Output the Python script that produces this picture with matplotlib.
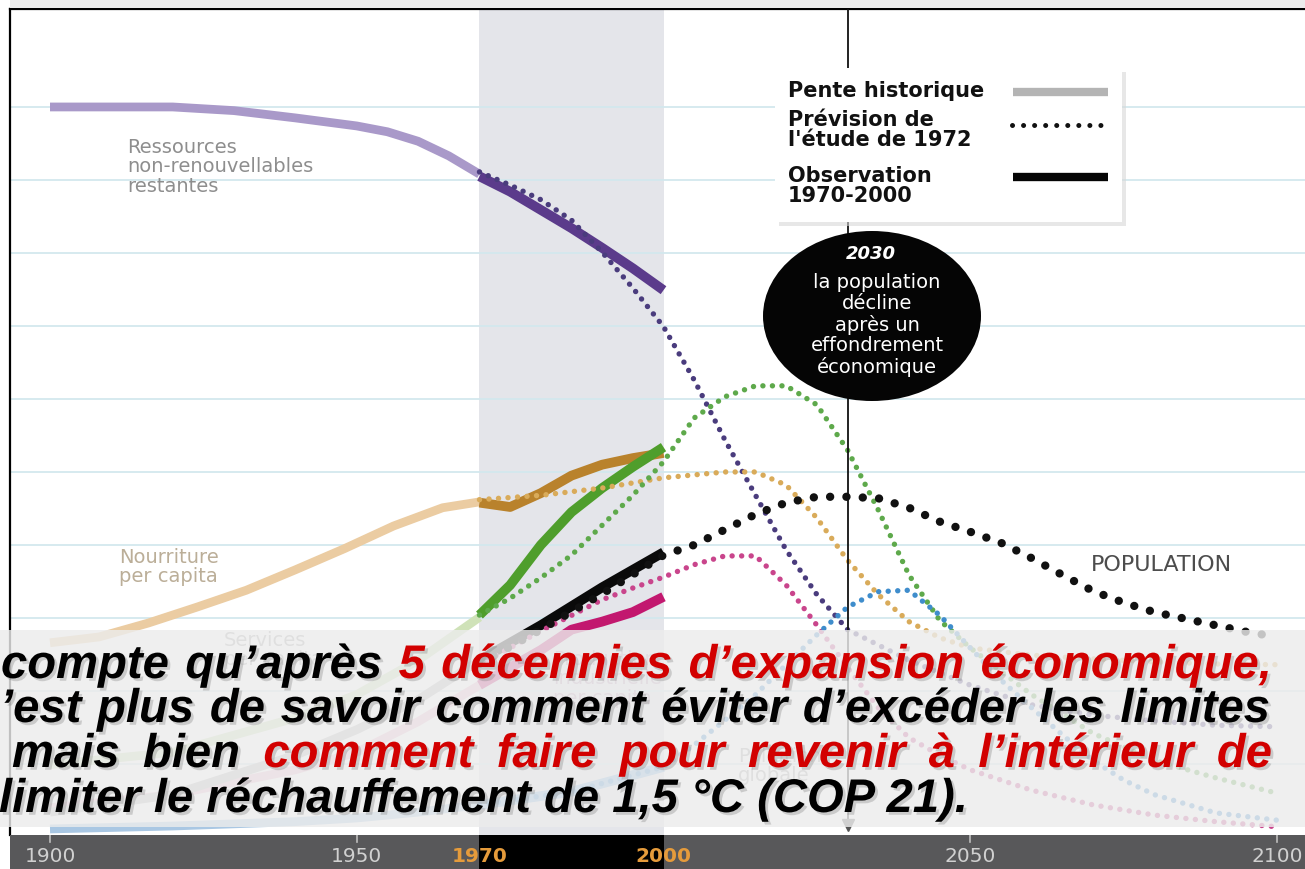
import matplotlib
matplotlib.use('Agg')
import matplotlib.pyplot as plt
from matplotlib.patches import Rectangle, Ellipse
from matplotlib.lines import Line2D
import matplotlib.patheffects as pe

# ---------------- DATA (values in grid units, years on x) ----------------
# Ressources non-renouvellables restantes
res_hist_years = [1900, 1910, 1920, 1930, 1940, 1950, 1955, 1960, 1965, 1970]
res_hist_vals = [10.00, 10.00, 10.00, 9.95, 9.85, 9.74, 9.66, 9.53, 9.33, 9.08]
res_obs_years = [1970, 1975, 1980, 1985, 1990, 1995, 2000]
res_obs_vals = [9.05, 8.84, 8.59, 8.34, 8.07, 7.79, 7.49]
res_fc_years = [1970, 1975, 1980, 1985, 1990, 1995, 2000, 2005, 2010, 2015, 2020,
                2025, 2030, 2035, 2040, 2050, 2060, 2070, 2080, 2090, 2100]
res_fc_vals = [9.11, 8.93, 8.73, 8.45, 8.01, 7.52, 6.99, 6.26, 5.44, 4.68, 3.93,
               3.32, 2.84, 2.63, 2.42, 2.08, 1.81, 1.67, 1.59, 1.53, 1.51]

# Nourriture per capita
food_hist_years = [1900, 1908, 1916, 1924, 1932, 1940, 1948, 1956, 1964, 1970]
food_hist_vals = [2.66, 2.74, 2.93, 3.15, 3.38, 3.66, 3.95, 4.26, 4.51, 4.59]
food_obs_years = [1970, 1975, 1980, 1985, 1990, 1995, 2000]
food_obs_vals = [4.58, 4.52, 4.71, 4.95, 5.10, 5.19, 5.26]
food_fc_years = [1970, 1980, 1990, 2000, 2010, 2015, 2020, 2025, 2030, 2035, 2040,
                 2045, 2050, 2060, 2070, 2080, 2090, 2100]
food_fc_vals = [4.62, 4.68, 4.78, 4.92, 5.00, 5.00, 4.82, 4.37, 3.79, 3.32, 2.95,
                2.73, 2.59, 2.49, 2.44, 2.40, 2.37, 2.36]

# Services per capita
serv_hist_years = [1900, 1920, 1940, 1950, 1960, 1970]
serv_hist_vals = [0.99, 1.16, 1.63, 1.95, 2.42, 3.01]
serv_obs_years = [1970, 1975, 1980, 1985, 1990, 1995, 2000]
serv_obs_vals = [3.04, 3.45, 4.00, 4.45, 4.78, 5.07, 5.34]
serv_fc_years = [1970, 1975, 1980, 1985, 1990, 1995, 2000, 2005, 2010, 2015, 2020,
                 2025, 2030, 2035, 2040, 2045, 2050, 2060, 2070, 2080, 2090, 2100]
serv_fc_vals = [3.04, 3.27, 3.55, 3.86, 4.27, 4.68, 5.14, 5.74, 6.03, 6.18, 6.18,
                5.92, 5.30, 4.48, 3.59, 2.97, 2.59, 1.95, 1.42, 1.05, 0.81, 0.60]

# Population
pop_hist_years = [1900, 1920, 1940, 1950, 1960, 1970]
pop_hist_vals = [0.34, 0.58, 1.12, 1.47, 1.88, 2.42]
pop_obs_years = [1970, 1980, 1990, 2000]
pop_obs_vals = [2.42, 2.90, 3.42, 3.90]
pop_fc_years = [1970, 1980, 1990, 2000, 2005, 2010, 2015, 2020, 2025, 2030, 2035,
                2040, 2045, 2050, 2055, 2060, 2065, 2070, 2075, 2080, 2085, 2090,
                2095, 2100]
pop_fc_vals = [2.37, 2.84, 3.33, 3.86, 4.00, 4.21, 4.42, 4.58, 4.66, 4.66, 4.64,
               4.51, 4.32, 4.18, 4.03, 3.82, 3.59, 3.37, 3.21, 3.08, 2.99, 2.90,
               2.81, 2.74]

# Production industrielle per capita
ind_hist_years = [1900, 1920, 1940, 1950, 1960, 1970]
ind_hist_vals = [0.40, 0.58, 0.92, 1.16, 1.58, 2.08]
ind_obs_years = [1970, 1975, 1980, 1985, 1990, 1995, 2000]
ind_obs_vals = [2.08, 2.32, 2.56, 2.84, 2.95, 3.08, 3.29]
ind_fc_years = [1970, 1980, 1990, 1995, 2000, 2005, 2010, 2015, 2020, 2025, 2030,
                2035, 2040, 2045, 2050, 2060, 2070, 2080, 2090, 2100]
ind_fc_vals = [2.36, 2.82, 3.25, 3.41, 3.56, 3.73, 3.85, 3.85, 3.45, 2.90, 2.32,
               1.77, 1.36, 1.12, 0.92, 0.64, 0.44, 0.30, 0.21, 0.14]

# Pollution globale
pol_hist_years = [1900, 1920, 1940, 1950, 1960, 1970]
pol_hist_vals = [0.11, 0.15, 0.21, 0.26, 0.34, 0.44]
pol_obs_years = [1970, 1985, 2000]
pol_obs_vals = [0.44, 0.62, 0.96]
pol_fc_years = [1970, 1985, 2000, 2005, 2010, 2015, 2020, 2025, 2030, 2035, 2040,
                2045, 2050, 2055, 2060, 2065, 2070, 2075, 2080, 2090, 2100]
pol_fc_vals = [0.44, 0.62, 0.96, 1.26, 1.60, 1.95, 2.36, 2.77, 3.15, 3.36, 3.38,
               3.04, 2.59, 2.15, 1.77, 1.40, 1.05, 0.78, 0.58, 0.33, 0.23]

tick_years = [1900, 1950, 1970, 2000, 2050, 2100]
tick_labels = ['1900', '1950', '1970', '2000', '2050', '2100']
highlight_years = [1970, 2000]
grid_levels = [1, 2, 3, 4, 5, 6, 7, 8, 9, 10]
marker_year = 2030

legend_labels = ['Pente historique', 'Prévision de\nl\'étude de 1972', 'Observation\n1970-2000']
bubble_title = '2030'
bubble_lines = ['la population', 'décline', 'après un', 'effondrement', 'économique']

# ---------------- FIGURE ----------------
W, H = 1305, 869
fig = plt.figure(figsize=(W / 100, H / 100), dpi=100)
fig.patch.set_facecolor('white')


def fx(px):
    return px / W


def fy(py):
    return 1 - py / H


XMIN, XMAX = 1893.48, 2104.56
ax = fig.add_axes([fx(10), fy(835), fx(1305) - fx(10), fy(9) - fy(835)])
ax.set_xlim(XMIN, XMAX)
ax.set_ylim(0.027, 11.342)
ax.set_facecolor('white')
ax.set_xticks([])
ax.set_yticks([])
for s in ['bottom', 'right']:
    ax.spines[s].set_visible(False)
for s in ['left', 'top']:
    ax.spines[s].set_linewidth(1.6)
    ax.spines[s].set_color('black')

ax.axvspan(1970, 2000, color='#e4e5ea', zorder=0, lw=0)
for g in grid_levels:
    ax.axhline(g, color='#d3e8ee', lw=1.3, zorder=0.5)


def series(hy, hv, oy, ov, fyr, fv, ch, co, cd, dlw=3.9, gap=1.75, z=4):
    ax.plot(hy, hv, color=ch, lw=6.3, solid_capstyle='butt', zorder=2)
    ax.plot(oy, ov, color=co, lw=7, solid_capstyle='butt', zorder=3)
    ax.plot(fyr, fv, color=cd, lw=dlw, ls=(0, (0.01, gap)),
            dash_capstyle='round', zorder=z)


series(res_hist_years, res_hist_vals, res_obs_years, res_obs_vals,
       res_fc_years, res_fc_vals, '#a999c9', '#5b3b8b', '#4a3c7d')
series(food_hist_years, food_hist_vals, food_obs_years, food_obs_vals,
       food_fc_years, food_fc_vals, '#ebcca2', '#b9822c', '#d9ab5a')
series(serv_hist_years, serv_hist_vals, serv_obs_years, serv_obs_vals,
       serv_fc_years, serv_fc_vals, '#cfe2b8', '#4f9e2c', '#5ea94b')
series(ind_hist_years, ind_hist_vals, ind_obs_years, ind_obs_vals,
       ind_fc_years, ind_fc_vals, '#efbfd2', '#c2186f', '#c9458c')
series(pol_hist_years, pol_hist_vals, pol_obs_years, pol_obs_vals,
       pol_fc_years, pol_fc_vals, '#a9c7e3', '#7fb0dc', '#3f8dcc')
series(pop_hist_years, pop_hist_vals, pop_obs_years, pop_obs_vals,
       pop_fc_years, pop_fc_vals, '#bdbdbd', '#0a0a0a', '#111111',
       dlw=6.0, gap=1.95, z=4.5)

# vertical 2030 marker
ax.plot([marker_year, marker_year], [0.13, 11.342], color='#111', lw=1.3, zorder=5)
ax.plot([marker_year], [0.17], marker='v', ms=8, color='#555', zorder=5, lw=0)

# series labels (figure pixel positions)
lab_kw = dict(fontfamily='DejaVu Sans', fontsize=14, va='top', ha='left',
              linespacing=1.03)
fig.text(fx(127), fy(138), 'Ressources\nnon-renouvellables\nrestantes',
         color='#8e8e8e', **lab_kw)
fig.text(fx(119), fy(548), 'Nourriture\nper capita', color='#bbae98', **lab_kw)
fig.text(fx(224), fy(631), 'Services\nper capita', color='#a8a8a8', **lab_kw)
fig.text(fx(553), fy(650), 'Production\nindustrielle\nper capita', color='#b89ab3', **lab_kw)
fig.text(fx(738), fy(747), 'Pollution\nglobale', color='#a5a5a5', **lab_kw)
fig.text(fx(1091), fy(565), 'POPULATION', color='#4d4d4d', fontfamily='DejaVu Sans',
         fontsize=16, va='center', ha='left')

# top strip
fig.add_artist(Rectangle((fx(10), fy(8)), 1, 1, transform=fig.transFigure,
                         facecolor='#ececec', edgecolor='none', zorder=1))

# bottom axis band
axb = fig.add_axes([fx(10), 0, fx(1305) - fx(10), fy(835)])
axb.set_xlim(XMIN, XMAX)
axb.set_ylim(0, 1)
axb.set_facecolor('#58585a')
axb.axvspan(1970, 2000, color='black', lw=0)
for s in axb.spines.values():
    s.set_visible(False)
axb.set_xticks([])
axb.set_yticks([])
for yr, lab in zip(tick_years, tick_labels):
    hl = yr in highlight_years
    if not hl:
        axb.plot([yr, yr], [0.78, 1.0], color='#bdbdbd', lw=1.2)
    axb.text(yr, 0.36, lab, ha='center', va='center', fontsize=14.5,
             fontfamily='DejaVu Sans', fontweight='bold' if hl else 'normal',
             color='#e59b3b' if hl else '#d0d0d0')

# legend box
fig.add_artist(Rectangle((fx(779), fy(226)), fx(1126) - fx(779), fy(72) - fy(226),
                         transform=fig.transFigure, facecolor='#d8d8d8',
                         edgecolor='none', alpha=0.6, zorder=5))
fig.add_artist(Rectangle((fx(775), fy(222)), fx(1122) - fx(775), fy(68) - fy(222),
                         transform=fig.transFigure, facecolor='white',
                         edgecolor='none', zorder=6))
leg_kw = dict(fontfamily='DejaVu Sans', fontweight='bold', fontsize=15,
              color='#111', ha='left', va='center', linespacing=1.02, zorder=7)
fig.text(fx(788), fy(91), legend_labels[0], **leg_kw)
fig.text(fx(788), fy(130), legend_labels[1], **leg_kw)
fig.text(fx(788), fy(186), legend_labels[2], **leg_kw)
fig.add_artist(Line2D([fx(1013), fx(1108)], [fy(92), fy(92)], transform=fig.transFigure,
                      color='#b4b4b4', lw=6, solid_capstyle='butt', zorder=7))
fig.add_artist(Line2D([fx(1012), fx(1108)], [fy(125), fy(125)], transform=fig.transFigure,
                      color='#111', lw=3.6, ls=(0, (0.01, 2.2)),
                      dash_capstyle='round', zorder=7))
fig.add_artist(Line2D([fx(1013), fx(1108)], [fy(177), fy(177)], transform=fig.transFigure,
                      color='#050505', lw=6, solid_capstyle='butt', zorder=7))

# bubble
fig.add_artist(Ellipse((fx(872), fy(316)), 218 / W, 170 / H, transform=fig.transFigure,
                       facecolor='#050505', edgecolor='none', zorder=6))
fig.text(fx(871), fy(254), bubble_title, color='white', fontsize=13,
         fontweight='bold', fontstyle='italic', fontfamily='DejaVu Sans',
         ha='center', va='center', zorder=7)
for i, t in enumerate(bubble_lines):
    fig.text(fx(877), fy(282 + 21.3 * i), t, color='white', fontsize=14,
             fontfamily='DejaVu Sans', ha='center', va='center', zorder=7)

# translucent overlay box
fig.add_artist(Rectangle((0, fy(827)), 1, fy(630) - fy(827), transform=fig.transFigure,
                         facecolor='#ececec', edgecolor='none', alpha=0.82, zorder=10))

# overlay text
FS = 34
K, R = '#000000', '#d20000'
shadow = [pe.SimplePatchShadow(offset=(2, -2), shadow_rgbFace='#777777', alpha=0.3),
          pe.Normal()]
txt_kw = dict(fontsize=FS, fontfamily='Liberation Sans', fontweight='bold',
              fontstyle='italic', va='baseline', ha='left', zorder=20,
              path_effects=shadow)
renderer = fig.canvas.get_renderer()


def justify(words, left, right, base):
    ts = [fig.text(0, fy(base), w, color=c, **txt_kw) for w, c in words]
    widths = [t.get_window_extent(renderer).width for t in ts]
    gap = (right - left - sum(widths)) / (len(ts) - 1)
    x = left
    for t, w in zip(ts, widths):
        t.set_x(fx(x))
        x += w + gap


justify([('compte', K), ('qu’après', K), ('5', R), ('décennies', R),
         ('d’expansion', R), ('économique,', R)], 1, 1272, 678)
justify([('’est', K), ('plus', K), ('de', K), ('savoir', K), ('comment', K),
         ('éviter', K), ('d’excéder', K), ('les', K), ('limites', K)], 0, 1270, 722)
justify([('mais', K), ('bien', K), ('comment', R), ('faire', R), ('pour', R),
         ('revenir', R), ('à', R), ('l’intérieur', R), ('de', R)], 12, 1272, 767)
fig.text(fx(-1), fy(812), 'limiter le réchauffement de 1,5 °C (COP 21).', color=K, **txt_kw)

fig.savefig('out.png', dpi=100, facecolor='white')
